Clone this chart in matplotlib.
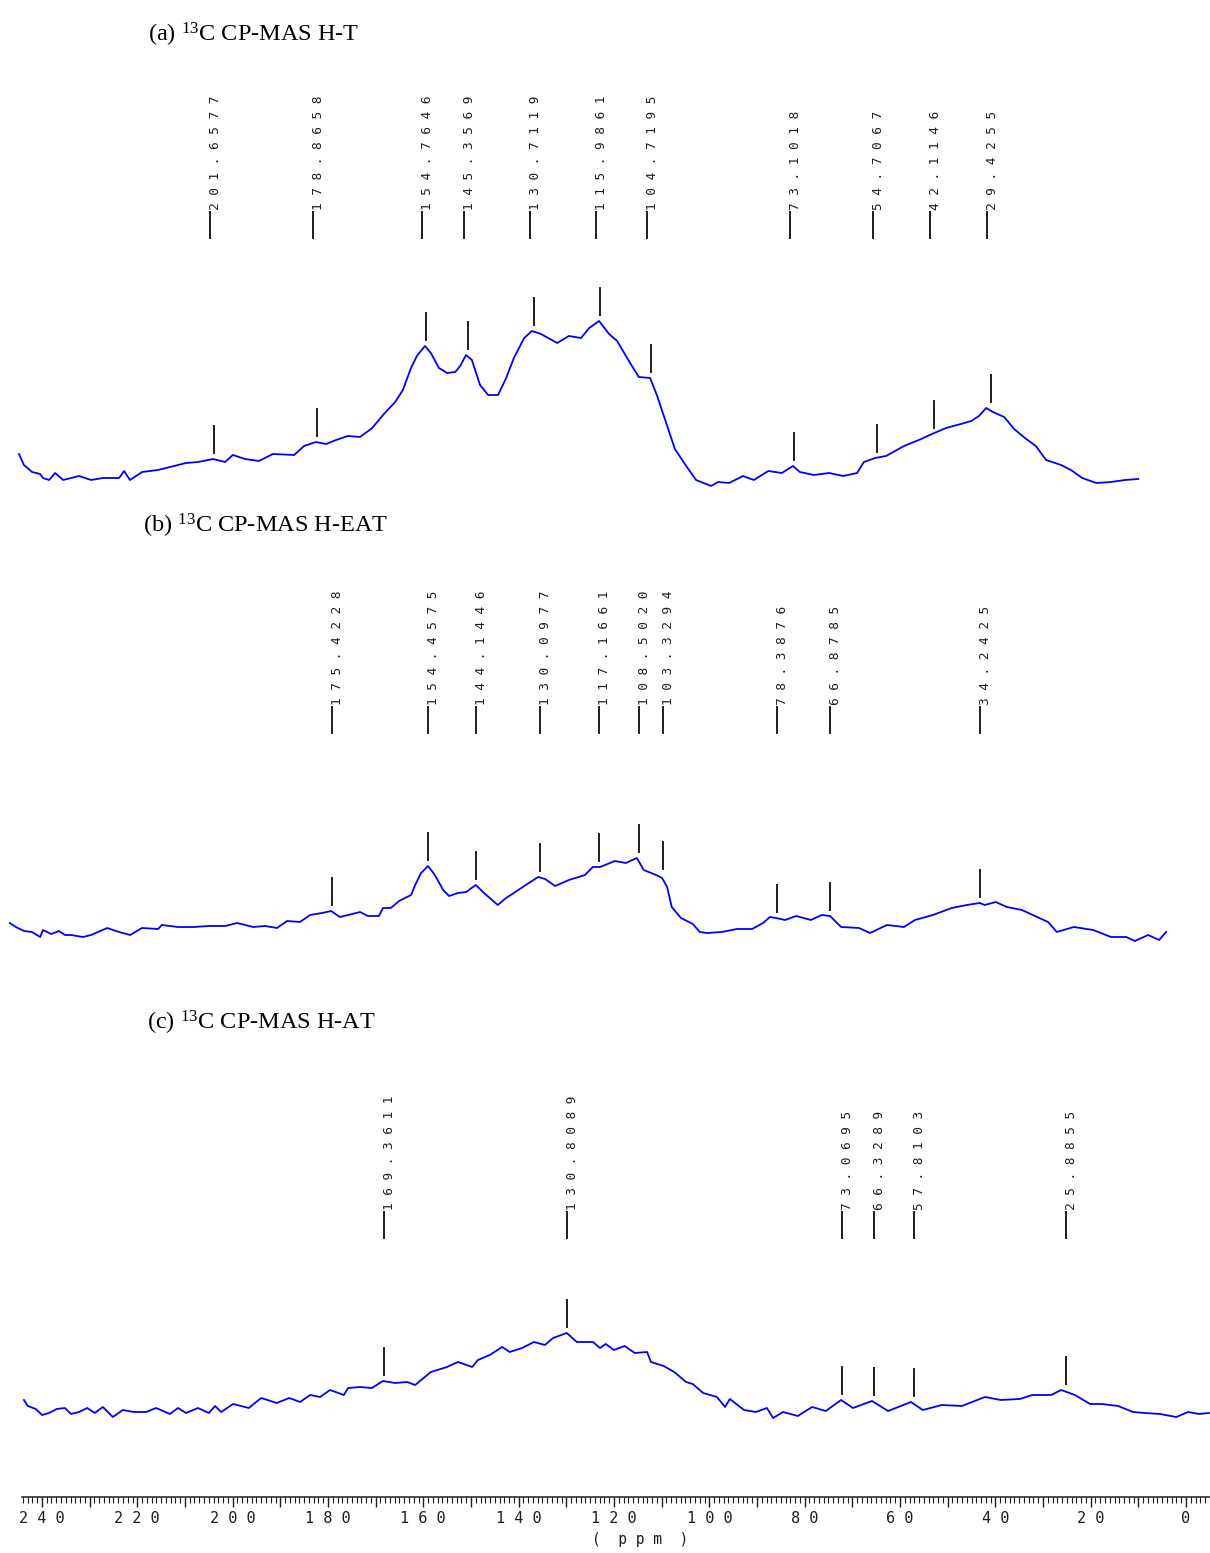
import matplotlib.pyplot as plt
import matplotlib.transforms as mtransforms
from matplotlib.ticker import FixedLocator, FuncFormatter
import numpy as np

plt.rcParams['mathtext.fontset'] = 'custom'
plt.rcParams['mathtext.rm'] = 'Liberation Serif'
plt.rcParams['mathtext.it'] = 'Liberation Serif'

# ---- (a) H-T spectrum: chemical shift (ppm) and intensity (arb. units)
a_ppm = [244.0, 242.9, 241.1, 239.3, 238.7, 237.3, 236.0, 234.2, 230.7, 228.0,
         225.4, 221.8, 220.7, 219.4, 216.7, 213.2, 209.6, 207.0, 204.3, 201.0,
         198.3, 196.6, 193.9, 190.8, 187.7, 183.0, 180.8, 178.2, 175.9, 173.7,
         171.1, 168.4, 165.7, 163.3, 160.6, 158.9, 157.1, 155.8, 154.0, 152.7,
         150.9, 149.1, 147.3, 146.2, 144.9, 143.6, 141.8, 140.0, 137.8, 136.0,
         134.3, 132.0, 130.3, 128.3, 124.7, 122.1, 119.4, 117.6, 115.4, 113.2,
         111.4, 108.8, 106.6, 104.1, 102.6, 100.6, 98.6, 96.1, 93.9, 90.6,
         89.0, 86.6, 83.5, 81.1, 77.9, 74.9, 72.4, 70.9, 67.8, 64.4,
         61.3, 58.2, 56.7, 54.2, 51.8, 47.8, 44.0, 41.6, 38.5, 35.2,
         32.9, 31.2, 29.6, 28.1, 25.6, 23.4, 21.0, 18.6, 16.3, 13.0,
         10.8, 8.3, 5.2, 1.9, -1.2, -4.1]
a_int = [36, 25, 18, 16, 12, 10, 17, 10, 14, 10,
         12, 12, 19, 10, 18, 20, 24, 27, 28, 31,
         28, 35, 31, 29, 36, 35, 44, 48, 46, 50,
         54, 53, 62, 75, 88, 100, 122, 134, 144, 137,
         122, 117, 118, 124, 135, 130, 105, 95, 95, 112,
         132, 152, 159, 156, 147, 154, 152, 162, 169, 156,
         149, 129, 113, 112, 95, 68, 41, 24, 10, 4,
         8, 7, 14, 10, 19, 17, 24, 18, 15, 17,
         14, 17, 28, 32, 34, 44, 51, 56, 62, 66,
         69, 74, 82, 78, 73, 61, 52, 44, 30, 25,
         20, 12, 7, 8, 10, 11]
a_peaks = [201.6577, 178.8658, 154.7646, 145.3569, 130.7119, 115.9861,
           104.7195, 73.1018, 54.7067, 42.1146, 29.4255]

# ---- (b) H-EAT spectrum
b_ppm = [245.6, 244.3, 242.5, 240.8, 239.0, 238.4, 236.6, 234.9, 233.6, 232.3,
         229.7, 227.9, 224.4, 221.8, 219.4, 216.8, 213.3, 212.5, 209.0, 205.5,
         202.2, 198.7, 196.1, 192.6, 190.0, 187.4, 185.2, 182.4, 180.2, 177.6,
         175.6, 173.7, 171.9, 169.3, 167.6, 165.2, 164.3, 162.6, 160.8, 158.2,
         157.3, 156.0, 154.5, 153.0, 151.2, 149.9, 148.0, 146.2, 144.1, 142.3,
         139.3, 137.5, 135.8, 133.2, 130.5, 129.0, 126.8, 123.8, 120.3, 118.6,
         117.0, 113.8, 111.4, 109.0, 107.5, 104.8, 103.5, 102.4, 101.4, 99.4,
         96.8, 95.3, 93.7, 90.5, 87.2, 83.9, 81.5, 80.0, 78.7, 76.7,
         74.3, 71.1, 68.7, 66.9, 64.5, 60.6, 58.2, 54.5, 50.8, 48.4,
         44.5, 40.4, 37.1, 34.3, 33.2, 30.8, 28.4, 25.1, 21.8, 19.4,
         17.5, 13.8, 9.6, 5.7, 2.4, 0.5, -2.4, -4.8, -6.3]
b_int = [22, 18, 14, 13, 8, 15, 11, 14, 10, 10,
         8, 10, 17, 13, 10, 17, 16, 20, 18, 18,
         19, 19, 22, 18, 19, 17, 24, 23, 30, 32,
         34, 28, 30, 33, 29, 29, 37, 37, 44, 50,
         60, 72, 79, 70, 55, 49, 52, 53, 60, 52,
         40, 47, 52, 60, 68, 66, 59, 65, 70, 78,
         78, 84, 82, 87, 75, 70, 67, 58, 38, 27,
         21, 13, 12, 13, 16, 16, 22, 28, 27, 25,
         29, 25, 30, 29, 18, 17, 12, 20, 18, 25,
         30, 37, 40, 42, 40, 43, 38, 35, 28, 23,
         13, 18, 15, 8, 8, 4, 10, 5, 13]
b_peaks = [175.4228, 154.4575, 144.1446, 130.0977, 117.1661, 108.5020,
           103.3294, 78.3876, 66.8785, 34.2425]

# ---- (c) H-AT spectrum
c_ppm = [245.1, 244.3, 242.6, 241.3, 239.8, 238.2, 236.5, 235.2, 233.5, 231.8,
         230.2, 228.5, 226.4, 224.3, 222.0, 219.4, 217.3, 214.4, 212.7, 211.0,
         208.5, 206.2, 204.9, 203.6, 201.1, 197.8, 195.2, 191.9, 189.3, 187.0,
         184.9, 182.8, 180.7, 177.8, 176.9, 174.4, 171.9, 169.6, 167.0, 164.5,
         162.8, 159.5, 156.1, 153.8, 150.8, 149.6, 147.1, 144.5, 142.9, 140.3,
         137.8, 135.5, 133.8, 130.9, 128.8, 125.4,
         123.9, 122.7, 121.0, 118.7, 116.6, 114.0, 113.2, 110.5, 108.3, 105.8,
         104.4, 102.2, 99.3, 97.6, 96.6, 93.6, 91.1, 88.8, 87.5, 85.4,
         82.3, 79.3, 76.4, 73.2, 70.7, 66.7, 63.3, 58.5, 56.0, 52.0,
         47.8, 42.9, 39.6, 35.6, 33.0, 29.0, 26.9, 24.0, 20.8, 18.3,
         14.9, 11.8, 9.3, 6.1, 2.7, 0.2, -2.1, -4.2]
c_int = [25, 19, 16, 10, 12, 16, 17, 11, 13, 17,
         12, 18, 8, 15, 13, 13, 17, 11, 17, 12,
         17, 12, 19, 13, 21, 17, 27, 22, 27, 23,
         30, 28, 35, 30, 37, 38, 37, 44, 42, 43,
         40, 53, 58, 63, 58, 65, 70, 78, 73, 77,
         83, 80, 87, 92, 83, 83,
         77, 81, 75, 79, 72, 73, 63, 59, 53, 43,
         41, 32, 28, 18, 26, 15, 13, 17, 7, 13,
         9, 18, 14, 25, 17, 24, 14, 23, 15, 20,
         19, 28, 25, 26, 30, 30, 35, 30, 21, 21,
         19, 13, 12, 11, 8, 13, 11, 12]
c_peaks = [169.3611, 130.8089, 73.0695, 66.3289, 57.8103, 25.8855]

W, H = 1210, 1553
fig = plt.figure(figsize=(W / 100, H / 100), dpi=100)
INK = '#1e1e1e'


def spaced(v):
    return ' '.join(f'{v:.4f}')


def panel(base, xlim, ppm, inten, peaks, line_lo, mark_dx, title, tx, ty):
    ax = fig.add_axes([0, (H - base) / H, 1, 300 / H])
    ax.set_xlim(*xlim)
    ax.set_ylim(0, 300)
    ax.axis('off')
    ppm = np.array(ppm)
    inten = np.array(inten)
    ax.plot(ppm, inten, color='#0000ff', lw=1.3)
    mark_tr = mtransforms.offset_copy(ax.transData, fig=fig, x=mark_dx, y=0, units='dots')
    text_tr = mtransforms.offset_copy(ax.transData, fig=fig, x=-1, y=0, units='dots')
    for p in peaks:
        near = inten[np.abs(ppm - p) <= 1.6]
        y0 = (near.max() if near.size else np.interp(p, ppm[::-1], inten[::-1])) + 6
        ax.plot([p, p], [y0, y0 + 27], color=INK, lw=1.4, transform=mark_tr, clip_on=False)
        ax.plot([p, p], [line_lo, line_lo + 26], color=INK, lw=1.4, clip_on=False)
        ax.text(p, line_lo + 28, spaced(p), rotation=90, ha='left', va='bottom',
                fontsize=9.2, family='DejaVu Sans Mono', color=INK,
                transform=text_tr, clip_on=False)
    fig.text(tx / W, 1 - ty / H, title, fontsize=17.5, family='Liberation Serif',
             va='center', ha='left', color='black')
    return ax


panel(490, (248.21, -20.02), a_ppm, a_int, a_peaks, 252, 4,
      r'(a) $^{13}$C CP-MAS H-T', 148, 35)
panel(945, (247.75, -15.87), b_ppm, b_int, b_peaks, 212, 0,
      r'(b) $^{13}$C CP-MAS H-EAT', 143, 526)
panel(1425, (250.14, -4.42), c_ppm, c_int, c_peaks, 187, 0,
      r'(c) $^{13}$C CP-MAS H-AT', 147, 1023)

# ---- ppm scale
axs = fig.add_axes([0, (H - 1497) / H, 1, 10 / H])
axs.set_xlim(248.8, -5.03)
axs.set_ylim(0, 1)
for side in ('top', 'left', 'right'):
    axs.spines[side].set_visible(False)
axs.patch.set_alpha(0)
axs.yaxis.set_visible(False)
axs.spines['bottom'].set_bounds(244.2, -5.0)
axs.spines['bottom'].set_color(INK)
axs.spines['bottom'].set_linewidth(1.1)
axs.xaxis.set_major_locator(FixedLocator(np.arange(0, 241, 10)))
axs.xaxis.set_minor_locator(FixedLocator(np.arange(-5, 245, 1)))
axs.xaxis.set_major_formatter(FuncFormatter(
    lambda v, pos: ' '.join(str(int(round(v)))) if int(round(v)) % 20 == 0 else ''))
axs.tick_params(axis='x', which='major', length=7, width=1.0, color=INK, pad=3,
                labelsize=11, labelcolor=INK)
axs.tick_params(axis='x', which='minor', length=4, width=0.8, color=INK)
for lab in axs.get_xticklabels():
    lab.set_family('DejaVu Sans Mono')
axs.set_xlabel('(  p p m  )', family='DejaVu Sans Mono', fontsize=10.5, color=INK, labelpad=4)
axs.xaxis.set_label_coords(640 / W, -3.5)

fig.savefig('out.png', dpi=100, facecolor='white')
